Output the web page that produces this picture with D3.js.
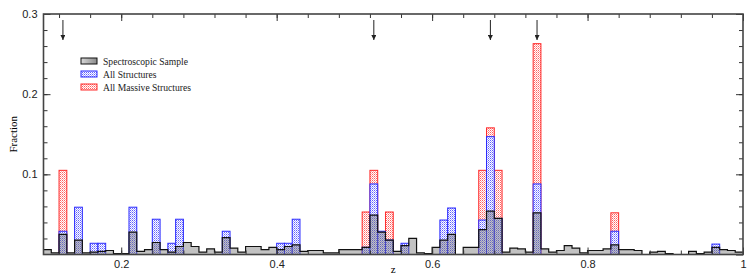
<!DOCTYPE html>
<html>
<meta charset="utf-8">
<style>
  body { margin: 0; background: #fff; }
  svg { font-family: "Liberation Serif", "Times New Roman", serif; }
  .tick text { font-size: 11px; fill: #222; }
  .tick line { stroke: #333; stroke-width: 1; }
  .frame { fill: none; stroke: #444; stroke-width: 1.6; }
</style>
<body>
<script src="https://d3js.org/d3.v7.min.js"></script>
<script>
  let width = 753,
    height = 277;

  // bins of width 0.01 from z = 0.10 to 1.00
  let binLeft = d3.range(90).map(i => (10 + i) / 100);
  let binWidth = 0.01;

  // spectroscopic sample, one value per bin
  let sampleFrac = [
    0.006, 0.002, 0.025, 0.002, 0.018, 0.002, 0.003, 0.004, 0.005, 0.001,
    0.001, 0.028, 0.004, 0.006, 0.015, 0.006, 0.003, 0.010, 0.015, 0.010,
    0.003, 0.007, 0.003, 0.021, 0.008, 0.003, 0.010, 0.010, 0.006, 0.009,
    0.006, 0.010, 0.012, 0.004, 0.005, 0.005, 0.002, 0.002, 0.006, 0.006,
    0.006, 0.009, 0.049, 0.028, 0.018, 0.004, 0.011, 0.020, 0.002, 0.001,
    0.009, 0.018, 0.025, 0.000, 0.009, 0.009, 0.031, 0.054, 0.045, 0.003,
    0.008, 0.007, 0.003, 0.052, 0.007, 0.003, 0.005, 0.011, 0.008, 0.002,
    0.005, 0.005, 0.007, 0.012, 0.006, 0.006, 0.005, 0.000, 0.003, 0.004,
    0.001, 0.000, 0.000, 0.004, 0.001, 0.003, 0.009, 0.006, 0.005, 0.003
  ];

  // all structures (bin left edge, fraction)
  let structZ = [0.12, 0.14, 0.16, 0.17, 0.21, 0.24, 0.26, 0.27, 0.33, 0.40, 0.41, 0.42,
    0.51, 0.52, 0.53, 0.54, 0.56, 0.61, 0.62, 0.66, 0.67, 0.68, 0.73, 0.83, 0.96];
  let structFrac = [0.029, 0.059, 0.014, 0.014, 0.059, 0.044, 0.014, 0.044, 0.029, 0.014, 0.014, 0.044,
    0.009, 0.088, 0.029, 0.018, 0.014, 0.043, 0.058, 0.043, 0.147, 0.045, 0.088, 0.029, 0.013];

  // all massive structures
  let massiveZ = [0.12, 0.51, 0.52, 0.54, 0.66, 0.67, 0.68, 0.73, 0.83];
  let massiveFrac = [0.105, 0.053, 0.105, 0.053, 0.105, 0.158, 0.105, 0.263, 0.052];

  let arrowZ = [0.125, 0.525, 0.675, 0.735];

  let xTicks = [0.2, 0.4, 0.6, 0.8, 1];
  let xMinorTicks = d3.range(3, 26).map(i => i * 0.04);
  let yTicks = [0, 0.1, 0.2, 0.3];
  let yMinorTicks = d3.range(1, 15).map(i => i * 0.02);

  let legendLabels = ["Spectroscopic Sample", "All Structures", "All Massive Structures"];

  let x = d3.scaleLinear().domain([0.1, 1]).range([43.5, 743]);
  let y = d3.scaleLinear().domain([0, 0.3]).range([254.5, 14]);

  let svg = d3.select("body").append("svg")
    .attr("width", width)
    .attr("height", height);

  let defs = svg.append("defs");

  // fine cross hatch
  function hatch(id, color, bg) {
    let p = defs.append("pattern")
      .attr("id", id)
      .attr("patternUnits", "userSpaceOnUse")
      .attr("width", 2)
      .attr("height", 2);
    p.append("rect").attr("width", 2).attr("height", 2).attr("fill", bg);
    p.append("rect").attr("x", 0).attr("y", 0).attr("width", 1).attr("height", 1)
      .attr("fill", color).attr("fill-opacity", 0.75);
    p.append("rect").attr("x", 1).attr("y", 1).attr("width", 1).attr("height", 1)
      .attr("fill", color).attr("fill-opacity", 0.4);
  }
  hatch("hatchRed", "#ff2a2a", "#fff");
  hatch("hatchBlue", "#2a2aff", "#fff");

  let grayGrad = defs.append("linearGradient").attr("id", "grayGrad")
    .attr("x1", 0).attr("x2", 1).attr("y1", 0).attr("y2", 0);
  grayGrad.append("stop").attr("offset", "0%").attr("stop-color", "#d8d8d8");
  grayGrad.append("stop").attr("offset", "100%").attr("stop-color", "#8a8a8a");

  function drawBars(zs, vals, fill, stroke) {
    svg.append("g")
      .selectAll("rect")
      .data(zs.map((z, i) => ({ z: z, v: vals[i] })))
      .join("rect")
      .attr("x", d => x(d.z))
      .attr("width", d => x(d.z + binWidth) - x(d.z))
      .attr("y", d => y(d.v))
      .attr("height", d => y(0) - y(d.v))
      .attr("fill", fill)
      .attr("stroke", stroke)
      .attr("stroke-width", 1);
  }

  function drawSample() {
    let pts = binLeft.map((z, i) => [z, sampleFrac[i]]);
    pts.push([1, sampleFrac[sampleFrac.length - 1]]);

    let area = d3.area()
      .curve(d3.curveStepAfter)
      .x(d => x(d[0]))
      .y0(y(0))
      .y1(d => y(d[1]));
    svg.append("path")
      .datum(pts)
      .attr("d", area)
      .attr("fill", "#6e6e6e")
      .attr("fill-opacity", 0.42);

    let line = d3.line()
      .curve(d3.curveStepAfter)
      .x(d => x(d[0]))
      .y(d => y(d[1]));
    svg.append("path")
      .datum(pts)
      .attr("d", line)
      .attr("fill", "none")
      .attr("stroke", "#111")
      .attr("stroke-width", 1.2);
  }

  function drawAxes() {
    let fmt = d => d === 1 ? "1" : d3.format(".1f")(d);

    svg.append("g").attr("transform", `translate(0,${y(0)})`)
      .call(d3.axisBottom(x).tickValues(xTicks).tickFormat(fmt).tickSize(-7).tickPadding(6))
      .call(g => g.select(".domain").remove());
    svg.append("g").attr("transform", `translate(0,${y(0)})`)
      .call(d3.axisBottom(x).tickValues(xMinorTicks).tickFormat("").tickSize(-4))
      .call(g => g.select(".domain").remove());
    svg.append("g").attr("transform", `translate(0,${y(0.3)})`)
      .call(d3.axisTop(x).tickValues(xTicks).tickFormat("").tickSize(-7))
      .call(g => g.select(".domain").remove());
    svg.append("g").attr("transform", `translate(0,${y(0.3)})`)
      .call(d3.axisTop(x).tickValues(xMinorTicks).tickFormat("").tickSize(-4))
      .call(g => g.select(".domain").remove());

    svg.append("g").attr("transform", `translate(${x(0.1)},0)`)
      .call(d3.axisLeft(y).tickValues(yTicks.filter(d => d > 0)).tickFormat(d3.format(".1f")).tickSize(-7).tickPadding(6))
      .call(g => g.select(".domain").remove());
    svg.append("g").attr("transform", `translate(${x(0.1)},0)`)
      .call(d3.axisLeft(y).tickValues(yMinorTicks).tickFormat("").tickSize(-4))
      .call(g => g.select(".domain").remove());
    svg.append("g").attr("transform", `translate(${x(1)},0)`)
      .call(d3.axisRight(y).tickValues(yTicks).tickFormat("").tickSize(-7))
      .call(g => g.select(".domain").remove());
    svg.append("g").attr("transform", `translate(${x(1)},0)`)
      .call(d3.axisRight(y).tickValues(yMinorTicks).tickFormat("").tickSize(-4))
      .call(g => g.select(".domain").remove());

    svg.append("rect")
      .attr("class", "frame")
      .attr("x", x(0.1))
      .attr("y", y(0.3))
      .attr("width", x(1) - x(0.1))
      .attr("height", y(0) - y(0.3));

    svg.append("text")
      .attr("x", (x(0.1) + x(1)) / 2)
      .attr("y", 273)
      .attr("text-anchor", "middle")
      .attr("font-size", 11)
      .text("z");

    svg.append("text")
      .attr("transform", `translate(17,${y(0.15)}) rotate(-90)`)
      .attr("text-anchor", "middle")
      .attr("font-size", 11)
      .text("Fraction");
  }

  function drawArrows() {
    defs.append("marker")
      .attr("id", "head")
      .attr("viewBox", "0 0 10 10")
      .attr("refX", 10).attr("refY", 5)
      .attr("markerWidth", 5).attr("markerHeight", 5)
      .attr("markerUnits", "userSpaceOnUse")
      .attr("orient", "auto")
      .append("path").attr("d", "M0,0 L10,5 L0,10 z").attr("fill", "#222");

    svg.append("g")
      .selectAll("line")
      .data(arrowZ)
      .join("line")
      .attr("x1", d => x(d)).attr("x2", d => x(d))
      .attr("y1", 20).attr("y2", 40)
      .attr("stroke", "#222")
      .attr("stroke-width", 1)
      .attr("marker-end", "url(#head)");
  }

  function drawLegend() {
    let fills = [["url(#grayGrad)", "#111"], ["url(#hatchBlue)", "#2a2aff"], ["url(#hatchRed)", "#ff2a2a"]];
    let lg = svg.append("g");
    legendLabels.forEach((lab, i) => {
      let yy = 58 + i * 13;
      lg.append("rect")
        .attr("x", 81).attr("y", yy)
        .attr("width", 16).attr("height", 6)
        .attr("fill", fills[i][0])
        .attr("stroke", fills[i][1])
        .attr("stroke-width", 1);
      lg.append("text")
        .attr("x", 103).attr("y", yy + 6.5)
        .attr("font-size", 9.6)
        .attr("fill", "#222")
        .text(lab);
    });
  }

  drawBars(massiveZ, massiveFrac, "url(#hatchRed)", "#ff2a2a");
  drawBars(structZ, structFrac, "url(#hatchBlue)", "#2a2aff");
  drawSample();
  drawAxes();
  drawArrows();
  drawLegend();
</script>
</body>
</html>
